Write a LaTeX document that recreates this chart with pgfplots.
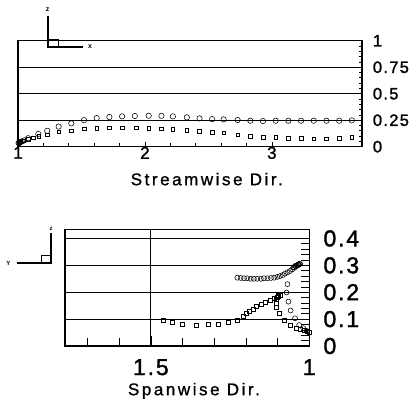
\documentclass[border=0pt]{standalone}
\usepackage{fontspec}
\setmainfont{Liberation Sans}
\newfontfamily\tickfont[LetterSpace=8, FakeBold=1.5]{Liberation Sans}
\newfontfamily\labfont[LetterSpace=15, FakeBold=1]{Liberation Sans}
\usepackage{pgfplots}
\pgfplotsset{compat=1.18}
\begin{document}
\begin{tikzpicture}[x=1pt,y=1pt]
\path[use as bounding box] (0,0) rectangle (411,400);
% ---------------- top panel ----------------
\begin{axis}[
  at={(18pt,253.3pt)}, anchor=south west, scale only axis,
  width=344pt, height=106pt,
  xmin=1, xmax=3.71, ymin=0, ymax=1,
  axis line style={line width=1.1pt},
  xtick={1,2,3}, xticklabels={1,2,3}, minor x tick num=4,
  ytick={0,0.25,0.5,0.75,1}, yticklabels={0,0.75,0.5,0.75,1}, minor y tick num=4,
  yticklabels={0,0.25,0.5,0.75,1},
  xtick pos=left, ytick pos=right, yticklabel pos=right,
  tick align=inside, major tick length=5pt, minor tick length=3.5pt,
  tick style={black, line width=0.7pt},
  ymajorgrids, grid style={black, line width=0.8pt},
  xticklabel style={font=\tickfont\fontsize{17}{17}\selectfont, anchor=north, inner sep=0pt, yshift=0pt},
  yticklabel style={font=\tickfont\fontsize{16.5}{16.5}\selectfont, anchor=west, inner sep=0pt, xshift=10.7pt},
  clip=false,
]
\addplot[only marks, mark=o, mark size=2.7pt, mark options={line width=0.55pt}, black] coordinates {
(1.005,0.035)(1.01,0.04)(1.02,0.045)(1.03,0.05)(1.05,0.06)(1.08,0.08)(1.16,0.12)(1.23,0.15)(1.32,0.19)(1.42,0.22)
(1.52,0.25)(1.62,0.27)(1.72,0.28)(1.82,0.286)(1.92,0.29)(2.03,0.292)(2.13,0.292)(2.22,0.286)
(2.33,0.277)(2.43,0.267)(2.53,0.26)(2.62,0.258)(2.73,0.252)(2.83,0.245)(2.93,0.242)(3.03,0.245)
(3.13,0.245)(3.23,0.245)(3.33,0.245)(3.43,0.245)(3.53,0.245)(3.63,0.248)
};
\addplot[only marks, mark=square, mark size=1.8pt, mark options={line width=0.55pt}, black] coordinates {
(1.005,0.035)(1.01,0.038)(1.02,0.045)(1.04,0.057)(1.08,0.07)(1.12,0.085)(1.165,0.1)(1.23,0.113)
(1.32,0.14)(1.42,0.15)(1.52,0.17)(1.62,0.176)(1.72,0.18)(1.82,0.18)(1.93,0.18)(2.03,0.176)
(2.13,0.17)(2.22,0.167)(2.33,0.157)(2.43,0.148)(2.53,0.135)(2.62,0.13)(2.73,0.113)(2.83,0.1)
(2.93,0.09)(3.03,0.088)(3.13,0.082)(3.23,0.079)(3.33,0.075)(3.43,0.075)(3.53,0.082)(3.63,0.09)
};
\node[font=\labfont\fontsize{17}{17}\selectfont, anchor=north, inner sep=0pt] at (axis description cs:0.549,0) [yshift=-26pt] {Streamwise Dir.};
\end{axis}
% ---------------- bottom panel ----------------
\begin{axis}[
  at={(65pt,54pt)}, anchor=south west, scale only axis,
  width=244.3pt, height=116.7pt,
  x dir=reverse,
  xmin=1, xmax=1.771, ymin=0, ymax=0.434,
  axis line style={line width=1.1pt},
  xtick={1,1.5}, xticklabels={1,1.5},
  minor xtick={1.1,1.2,1.3,1.4,1.6,1.7},
  ytick={0,0.1,0.2,0.3,0.4}, yticklabels={0,0.1,0.2,0.3,0.4}, minor y tick num=4,
  xtick pos=left, ytick pos=right, yticklabel pos=right,
  tick align=inside, major tick length=10pt, minor tick length=8pt,
  tick style={black, line width=0.7pt},
  xmajorgrids, ymajorgrids, grid style={black, line width=0.8pt},
  xticklabel style={font=\tickfont\fontsize{23}{23}\selectfont, anchor=north, inner sep=0pt, yshift=-13pt},
  yticklabel style={font=\tickfont\fontsize{23}{23}\selectfont, anchor=west, inner sep=0pt, xshift=14pt},
  clip=false,
]
\addplot[only marks, mark=o, mark size=2.5pt, mark options={line width=0.55pt}, black] coordinates {
(1.227,0.254)(1.217,0.253)(1.206,0.252)(1.196,0.252)(1.185,0.25)(1.175,0.25)(1.164,0.25)(1.153,0.25)
(1.143,0.252)(1.132,0.252)(1.121,0.253)(1.111,0.254)(1.101,0.257)(1.093,0.26)(1.084,0.264)(1.077,0.269)
(1.069,0.274)(1.061,0.279)(1.054,0.285)(1.047,0.291)(1.042,0.296)(1.037,0.3)(1.033,0.302)(1.029,0.305)
(1.035,0.304)(1.031,0.306)(1.04,0.3)(1.044,0.298)(1.05,0.293)
(1.069,0.23)(1.072,0.199)(1.066,0.165)(1.059,0.132)(1.045,0.103)(1.032,0.078)(1.019,0.066)(1.008,0.056)(1.0,0.05)
};
\addplot[only marks, mark=square, mark size=2pt, mark options={line width=0.55pt}, black] coordinates {
(1.461,0.097)(1.433,0.088)(1.40,0.081)(1.356,0.078)(1.319,0.079)(1.287,0.082)(1.256,0.088)(1.226,0.097)
(1.208,0.109)(1.198,0.12)(1.188,0.13)(1.178,0.138)(1.166,0.146)(1.152,0.155)(1.138,0.163)(1.124,0.17)
(1.112,0.177)(1.102,0.183)(1.097,0.187)(1.093,0.19)(1.099,0.186)
(1.105,0.172)(1.104,0.158)(1.103,0.145)(1.095,0.121)(1.08,0.095)(1.061,0.078)(1.042,0.066)(1.029,0.062)
(1.017,0.057)(1.006,0.053)(1.0,0.05)
};
\node[font=\labfont\fontsize{17}{17}\selectfont, anchor=north, inner sep=0pt] at (axis description cs:0.528,0) [yshift=-36.7pt] {Spanwise Dir.};
\end{axis}
% ---------------- orientation triads ----------------
\draw[line width=1.8pt] (48.3,384) -- (48.3,353.3) -- (82.7,353.3);
\draw[line width=0.8pt] (48.3,353.3) rectangle (58.3,360.7);
\node[font=\bfseries\fontsize{7}{7}\selectfont, inner sep=0pt] at (47.7,390) {z};
\node[font=\bfseries\fontsize{7}{7}\selectfont, inner sep=0pt] at (90,353.3) {x};
\draw[line width=1.8pt] (16.7,136.7) -- (51,136.7) -- (51,166.7);
\draw[line width=0.8pt] (41.7,136.7) rectangle (51,145);
\node[font=\bfseries\fontsize{6}{6}\selectfont, inner sep=0pt] at (51,170.7) {z};
\node[font=\bfseries\fontsize{6}{6}\selectfont, inner sep=0pt] at (8.3,136.7) {Y};
\end{tikzpicture}
\end{document}
